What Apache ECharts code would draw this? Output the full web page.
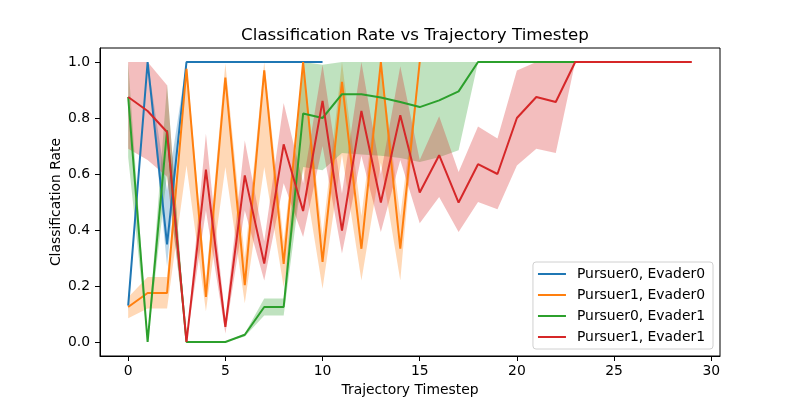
<!DOCTYPE html>
<html>
<head>
<meta charset="utf-8">
<script src="https://cdn.jsdelivr.net/npm/echarts@6/dist/echarts.min.js"></script>
<style>html,body{margin:0;padding:0;background:#fff}#c{width:800px;height:400px}</style>
</head>
<body>
<div id="c"></div>
<script>
const xTicks = [0, 5, 10, 15, 20, 25, 30];
const yTicks = [0, 0.2, 0.4, 0.6, 0.8, 1.0];

const p0e0X  = [0,1,2,3,4,5,6,7,8,9,10];
const p0e0   = [0.13,1.0,0.349,1,1,1,1,1,1,1,1];
const p0e0Lo = [0.11,1.0,0.27,1,1,1,1,1,1,1,1];
const p0e0Hi = [0.15,1.0,0.54,1,1,1,1,1,1,1,1];

const p1e0X  = [0,1,2,3,4,5,6,7,8,9,10,11,12,13,14,15];
const p1e0   = [0.125,0.175,0.175,0.976,0.161,0.944,0.203,0.970,0.279,1.0,0.286,0.929,0.333,1.0,0.333,1.0];
const p1e0Lo = [0.085,0.12,0.12,0.63,0.11,0.625,0.138,0.625,0.196,0.62,0.19,0.67,0.22,0.64,0.22,1.0];
const p1e0Hi = [0.16,0.232,0.232,1.0,0.22,0.995,0.30,1.0,0.36,1.0,0.38,1.0,0.45,1.0,0.45,1.0];

const p0e1X  = [0,1,2,3,4,5,6,7,8,9,10,11,12,13,14,15,16,17,18,19,20,21,22,23];
const p0e1   = [0.875,0.0,0.756,0,0,0,0.026,0.125,0.125,0.816,0.80,0.885,0.885,0.873,0.857,0.839,0.863,0.895,1,1,1,1,1,1];
const p0e1Lo = [0.66,0.0,0.6,0,0,0,0.02,0.095,0.095,0.625,0.613,0.675,0.67,0.665,0.657,0.643,0.66,0.685,1,1,1,1,1,1];
const p0e1Hi = [1.0,0.0,0.92,0,0,0,0.03,0.155,0.155,1.0,0.99,1,1,1,1,1,1,1,1,1,1,1,1,1];

const p1e1X  = [0,1,2,3,4,5,6,7,8,9,10,11,12,13,14,15,16,17,18,19,20,21,22,23,24,25,26,27,28,29];
const p1e1   = [0.875,0.825,0.75,0.0,0.616,0.054,0.595,0.28,0.706,0.468,0.861,0.398,0.825,0.498,0.81,0.534,0.667,0.498,0.635,0.60,0.80,0.875,0.857,1,1,1,1,1,1,1];
const p1e1Lo = [0.69,0.65,0.59,0.0,0.47,0.03,0.47,0.22,0.567,0.375,0.70,0.316,0.665,0.393,0.65,0.424,0.518,0.393,0.50,0.474,0.63,0.69,0.675,1,1,1,1,1,1,1];
const p1e1Hi = [1.0,1.0,0.917,0.0,0.744,0.08,0.72,0.36,0.854,0.567,0.99,0.53,1.0,0.6,0.985,0.65,0.806,0.607,0.77,0.727,0.97,1.0,1.0,1,1,1,1,1,1,1];

const names = ['Pursuer0, Evader0','Pursuer1, Evader0','Pursuer0, Evader1','Pursuer1, Evader1'];
const colors = ['#1f77b4','#ff7f0e','#2ca02c','#d62728'];
const bandColors = ['rgba(31,119,180,0.3)','rgba(255,127,14,0.3)','rgba(44,160,44,0.3)','rgba(214,39,40,0.3)'];
const groups = [
  [p0e0X,p0e0,p0e0Lo,p0e0Hi],
  [p1e0X,p1e0,p1e0Lo,p1e0Hi],
  [p0e1X,p0e1,p0e1Lo,p0e1Hi],
  [p1e1X,p1e1,p1e1Lo,p1e1Hi]
];

const font = 'DejaVu Sans';
const series = [];
groups.forEach((g, i) => {
  const [xs, m, lo, hi] = g;
  const pts = xs.map((x, k) => [x, lo[k], hi[k]]);
  series.push({
    name: 'band' + i, type: 'custom', z: 1, silent: true, clip: true,
    data: pts,
    encode: { x: 0, y: [1, 2] },
    renderItem: function (params, api) {
      if (params.dataIndex !== 0) return null;
      const upper = pts.map(p => api.coord([p[0], p[2]]));
      const lower = pts.slice().reverse().map(p => api.coord([p[0], p[1]]));
      return {
        type: 'polygon',
        shape: { points: upper.concat(lower) },
        style: { fill: bandColors[i], stroke: null }
      };
    }
  });
});
groups.forEach((g, i) => {
  const [xs, m] = g;
  series.push({
    name: names[i], type: 'line', z: 3, symbol: 'none',
    lineStyle: { color: colors[i], width: 2 }, itemStyle: { color: colors[i] },
    data: xs.map((x, k) => [x, m[k]])
  });
});

const chart = echarts.init(document.getElementById('c'), null, { renderer: 'canvas' });
chart.setOption({
  animation: false,
  backgroundColor: '#fff',
  title: {
    text: 'Classification Rate vs Trajectory Timestep',
    left: 410, top: 22, textAlign: 'center',
    textStyle: { fontFamily: font, fontSize: 16.7, fontWeight: 'normal', color: '#000' }
  },
  legend: {
    data: names, orient: 'vertical', right: 87, bottom: 51,
    icon: 'rect', itemWidth: 28, itemHeight: 2, itemGap: 7,
    padding: [5, 8, 5, 5],
    backgroundColor: 'rgba(255,255,255,0.8)', borderColor: '#d0d0d0', borderWidth: 1, borderRadius: 3,
    textStyle: { fontFamily: font, fontSize: 13.9, color: '#000', padding: [0,0,0,6] }
  },
  grid: { left: 100, right: 80, top: 48, bottom: 44, outerBoundsMode: 'none', containLabel: false,
    show: true, borderColor: '#000', borderWidth: 1, backgroundColor: 'transparent' },
  xAxis: {
    type: 'value', min: -1.45, max: 30.45,
    name: 'Trajectory Timestep', nameLocation: 'middle', nameGap: 27, nameMoveOverlap: false,
    nameTextStyle: { fontFamily: font, fontSize: 13.9, color: '#000' },
    axisLine: { show: true, onZero: false, lineStyle: { color: '#000', width: 1 } },
    axisTick: { show: true, customValues: xTicks, length: 5, lineStyle: { color: '#000' } },
    axisLabel: { customValues: xTicks, margin: 8, fontFamily: font, fontSize: 13.9, color: '#000' },
    splitLine: { show: false }
  },
  yAxis: {
    type: 'value', min: -0.05, max: 1.05,
    name: 'Classification Rate', nameLocation: 'middle', nameGap: 37, nameRotate: 90, nameMoveOverlap: false,
    nameTextStyle: { fontFamily: font, fontSize: 13.9, color: '#000' },
    axisLine: { show: true, onZero: false, lineStyle: { color: '#000', width: 1 } },
    axisTick: { show: true, customValues: yTicks, length: 5, lineStyle: { color: '#000' } },
    axisLabel: { customValues: yTicks, margin: 10, fontFamily: font, fontSize: 13.9, color: '#000',
      formatter: v => v.toFixed(1) },
    splitLine: { show: false }
  },
  series: series
});
</script>
</body>
</html>
